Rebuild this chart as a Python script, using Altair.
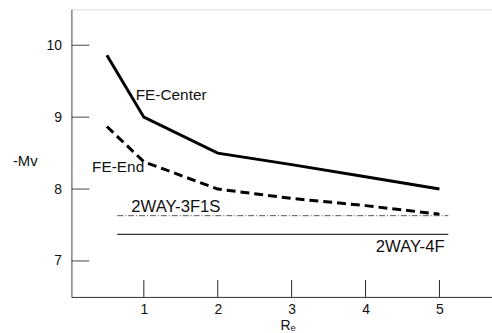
import altair as alt
import pandas as pd

# Data
re_vals = [0.5, 1, 2, 3, 4, 5]
fe_center = [9.86, 9.0, 8.5, 8.34, 8.17, 8.0]
fe_end = [8.87, 8.38, 8.0, 7.87, 7.77, 7.65]
twoway_x = [0.64, 5.12]
twoway_3f1s = [7.63, 7.63]
twoway_4f = [7.37, 7.37]

x_ticks = [1, 2, 3, 4, 5]
y_ticks = [7, 8, 9, 10]

labels = ["FE-Center", "FE-End", "2WAY-3F1S", "2WAY-4F"]
label_x = [0.89, 0.30, 0.83, 5.07]
label_y = [9.31, 8.30, 7.75, 7.20]
label_size = [15.5, 15.5, 16.8, 16.8]
label_align = ["left", "left", "left", "right"]

FONT = "Liberation Sans"
W, H = 424, 290
XMAX = 0.02 + W / 74.5

xs = alt.Scale(domain=[0.02, XMAX], nice=False, zero=False)
ys = alt.Scale(domain=[6.5, 10.5], nice=False, zero=False)

df_c = pd.DataFrame({"x": re_vals, "y": fe_center})
df_e = pd.DataFrame({"x": re_vals, "y": fe_end})
df_3 = pd.DataFrame({"x": twoway_x, "y": twoway_3f1s})
df_4 = pd.DataFrame({"x": twoway_x, "y": twoway_4f})
df_lab = pd.DataFrame({"t": labels, "x": label_x, "y": label_y, "s": label_size, "a": label_align})

xax = alt.Axis(values=x_ticks, format="d", ticks=False, grid=False, labelFont=FONT, labelFontSize=14,
               labelColor="#111", labelPadding=6, domainColor="#333",
               title="Rₑ", titleFont=FONT, titleFontSize=14, titleFontWeight="normal",
               titleColor="#111", titlePadding=2, titleX=218)
yax = alt.Axis(values=y_ticks, format="d", ticks=False, grid=False, labelFont=FONT, labelFontSize=14,
               labelColor="#111", labelPadding=10, domainColor="#555",
               title="-Mv", titleFont=FONT, titleFontSize=15, titleFontWeight="normal",
               titleColor="#111", titleAngle=0, titleAlign="center", titleBaseline="middle",
               titleX=-47, titleY=152)

center = alt.Chart(df_c).mark_line(color="black", strokeWidth=3).encode(
    x=alt.X("x:Q", scale=xs, axis=xax), y=alt.Y("y:Q", scale=ys, axis=yax))
end = alt.Chart(df_e).mark_line(color="black", strokeWidth=3, strokeDash=[9, 5]).encode(
    x=alt.X("x:Q", scale=xs), y=alt.Y("y:Q", scale=ys))
l3 = alt.Chart(df_3).mark_line(color="#555", strokeWidth=1, strokeDash=[6, 2, 1, 2]).encode(
    x=alt.X("x:Q", scale=xs), y=alt.Y("y:Q", scale=ys))
l4 = alt.Chart(df_4).mark_line(color="#333", strokeWidth=1.5).encode(
    x=alt.X("x:Q", scale=xs), y=alt.Y("y:Q", scale=ys))

ytick = alt.Chart(pd.DataFrame({"v": y_ticks})).mark_rule(color="#444", strokeWidth=1).encode(
    y=alt.Y("v:Q", scale=ys), x=alt.value(0), x2=alt.value(18))
xtick = alt.Chart(pd.DataFrame({"v": x_ticks})).mark_rule(color="#222", strokeWidth=1).encode(
    x=alt.X("v:Q", scale=xs), y=alt.value(H), y2=alt.value(H - 17))

lab_l = alt.Chart(df_lab[df_lab.a == "left"]).mark_text(
    font=FONT, align="left", baseline="middle", color="#111").encode(
    x=alt.X("x:Q", scale=xs), y=alt.Y("y:Q", scale=ys), text="t:N",
    size=alt.Size("s:Q", scale=None, legend=None))
lab_r = alt.Chart(df_lab[df_lab.a == "right"]).mark_text(
    font=FONT, align="right", baseline="middle", color="#111").encode(
    x=alt.X("x:Q", scale=xs), y=alt.Y("y:Q", scale=ys), text="t:N",
    size=alt.Size("s:Q", scale=None, legend=None))

chart = alt.layer(center, end, l3, l4, ytick, xtick, lab_l, lab_r).properties(
    width=W, height=H,
    autosize=alt.AutoSizeParams(type="none"),
    padding={"left": 72, "top": 8, "right": 0, "bottom": 35},
).configure_view(stroke="#444", strokeWidth=1).configure(background="white")

chart.save("out.html", embed_options={"renderer": "svg", "actions": False})
